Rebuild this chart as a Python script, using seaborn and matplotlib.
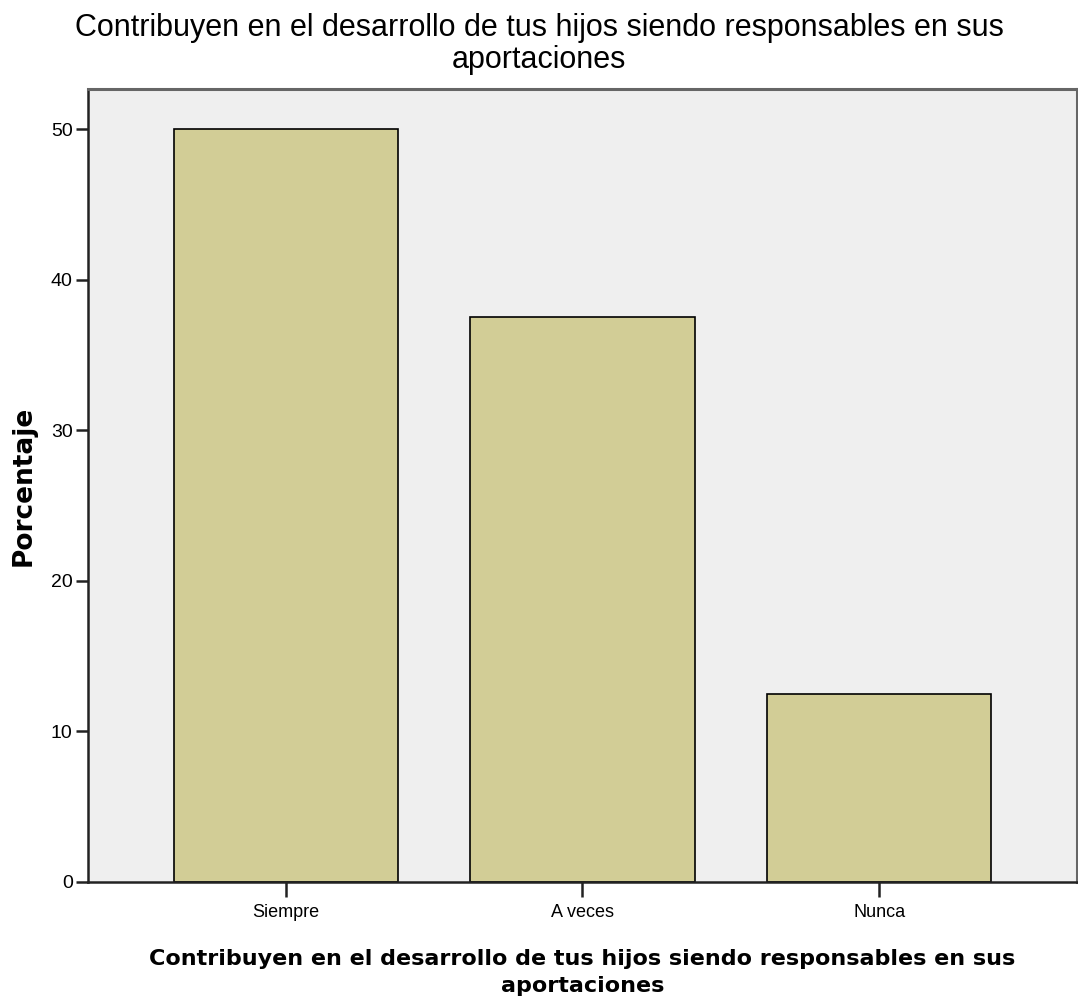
import matplotlib
matplotlib.use('Agg')
import matplotlib.pyplot as plt
import seaborn as sns
import pandas as pd

# Datos
categorias = ['Siempre', 'A veces', 'Nunca']
porcentajes = [50.0, 37.5, 12.5]
yticks = [0, 10, 20, 30, 40, 50]
titulo = 'Contribuyen en el desarrollo de tus hijos siendo responsables en sus\naportaciones'

df = pd.DataFrame({'categoria': categorias, 'porcentaje': porcentajes})

sns.set_style('white')
plt.rcParams['font.family'] = ['Liberation Sans', 'DejaVu Sans']
plt.rcParams['text.color'] = 'black'
plt.rcParams['axes.labelcolor'] = 'black'
plt.rcParams['xtick.color'] = 'black'
plt.rcParams['ytick.color'] = 'black'

fig = plt.figure(figsize=(10.78, 10.08), dpi=100)
ax = fig.add_axes([0.0816, 0.125, 0.9175, 0.7867])
ax.set_facecolor('#efefef')

sns.barplot(data=df, x='categoria', y='porcentaje', color='#d2cd96',
            edgecolor='black', linewidth=1.2, width=0.755, saturation=1, ax=ax)

ax.set_xlim(-2 / 3, 2 + 2 / 3)
ax.set_ylim(0, 52.66)
ax.set_yticks(yticks)
ax.set_yticklabels([str(t) for t in yticks], fontsize=14)
ax.tick_params(axis='y', left=True, length=9, width=1.8, color='#222222', pad=2)
ax.tick_params(axis='x', bottom=True, length=11, width=1.8, color='#222222', labelsize=13, pad=5)

for lado in ['left', 'bottom']:
    ax.spines[lado].set_color('#222222')
    ax.spines[lado].set_linewidth(1.8)
for lado in ['top', 'right']:
    ax.spines[lado].set_color('#666666')
    ax.spines[lado].set_linewidth(2.2)

ax.set_ylabel('Porcentaje', fontsize=19, fontweight='bold', labelpad=10, family='DejaVu Sans')
ax.set_xlabel(titulo, fontsize=16, fontweight='bold', labelpad=20, linespacing=1.45,
              family='DejaVu Sans')
fig.suptitle(titulo, fontsize=22, y=0.987, linespacing=1.07)

fig.savefig('out.png', dpi=100)
